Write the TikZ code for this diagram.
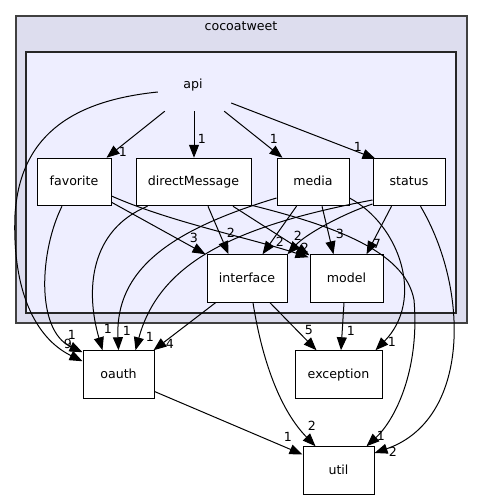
\documentclass[tikz,border=0pt]{standalone}
\usepackage{fontspec}
\setmainfont{DejaVu Sans}
\usetikzlibrary{arrows.meta}
\definecolor{outerfill}{HTML}{DDDDEE}
\definecolor{innerfill}{HTML}{EEEEFF}
\definecolor{clusterline}{HTML}{404040}
\begin{document}
\begin{tikzpicture}[x=1pt,y=-1pt,
  every node/.style={font=\fontsize{12.6}{15}\selectfont, text height=9.5pt, text depth=2.5pt},
  cluster/.style={draw=clusterline, line width=1.1pt, inner sep=0pt},
  dirbox/.style={draw=black, fill=white, line width=1pt, minimum height=47.5pt, inner sep=0pt},
  dep/.style={draw=black, line width=1pt, -{Triangle[length=13pt,width=10pt]}},
  lbl/.style={inner sep=0pt}
]
\useasboundingbox (0,0) rectangle (483,500);
\fill[white] (0,0) rectangle (483,500);
% clusters
\node[cluster, fill=outerfill, minimum width=451pt, minimum height=307pt] (cocoa) at (241.5,169.5) {};
\node (cocoatitle) at (241,27.5) {cocoatweet};
\node[cluster, draw=black!85, fill=innerfill, minimum width=430pt, minimum height=261pt] (apicl) at (241,182.5) {};
\node[minimum width=76pt, minimum height=52pt, inner sep=0pt] (api) at (193,85) {api};
% directory nodes
\node[dirbox, minimum width=74pt] (fav) at (74,182) {favorite};
\node[dirbox, minimum width=115pt] (dm) at (193.5,182) {directMessage};
\node[dirbox, minimum width=72pt] (media) at (313,182) {media};
\node[dirbox, minimum width=72pt] (status) at (409,182) {status};
\node[dirbox, minimum width=80pt] (iface) at (247,278.5) {interface};
\node[dirbox, minimum width=73pt] (model) at (346.5,278.5) {model};
\node[dirbox, minimum width=71pt] (oauth) at (118.5,374.5) {oauth};
\node[dirbox, minimum width=87pt] (exc) at (338.5,374.5) {exception};
\node[dirbox, minimum width=71pt] (util) at (338.5,470.5) {util};
% hidden label behind arrowheads
\node[lbl] (ldmmodel) at (305,249) {2};
% edges from api
\draw[dep] ([shift={(10,0)}]api.south west) -- ([shift={(-5,0)}]fav.north east);
\draw[dep] ([shift={(1,0)}]api.south) -- ([shift={(0.5,0)}]dm.north);
\draw[dep] ([shift={(-7,0)}]api.south east) -- ([shift={(6,0)}]media.north west);
\draw[dep] ([shift={(0,18)}]api.east) -- ([shift={(3,1)}]status.north west);
\draw[dep] ([shift={(3,7)}]api.west) .. controls (80,100) and (20,130) .. (15,215) .. controls (12,290) and (35,338) .. ([shift={(0,11)}]oauth.north west);
% favorite
\draw[dep] ([shift={(-12,0)}]fav.south) .. controls (40,250) and (35,330) .. ([shift={(0,2)}]oauth.north west);
\draw[dep] ([shift={(0,-4)}]fav.south east) -- ([shift={(-1,0)}]iface.north west);
\draw[dep] ([shift={(0,14)}]fav.east) .. controls (170,222) and (250,238) .. ([shift={(-1,3)}]model.north west);
% directMessage
\draw[dep] ([shift={(14.5,0)}]dm.south) -- ([shift={(22,0)}]iface.north west);
\draw[dep] ([shift={(39.5,0)}]dm.south) -- ([shift={(0,1)}]model.north west);
\draw[dep] ([shift={(12,0)}]dm.south west) .. controls (90,230) and (85,290) .. ([shift={(20,0)}]oauth.north west);
\draw[dep] ([shift={(0,-1)}]dm.south east) .. controls (330,225) and (405,250) .. (414,300) .. controls (420,370) and (395,420) .. ([shift={(-8,0)}]util.north east);
% media
\draw[dep] ([shift={(20,0)}]media.south west) -- ([shift={(56,0)}]iface.north west);
\draw[dep] ([shift={(9,0)}]media.south) -- ([shift={(24,0)}]model.north west);
\draw[dep] ([shift={(0,16)}]media.west) .. controls (170,230) and (115,270) .. ([shift={(36,0)}]oauth.north west);
\draw[dep] ([shift={(0,16)}]media.east) .. controls (400,225) and (425,300) .. ([shift={(-7,0)}]exc.north east);
% status
\draw[dep] ([shift={(0,22)}]status.west) .. controls (340,215) and (305,235) .. (iface.north east);
\draw[dep] ([shift={(19,0)}]status.south west) -- ([shift={(-17,0)}]model.north east);
\draw[dep] ([shift={(0,18)}]status.west) .. controls (240,225) and (160,260) .. ([shift={(53,0)}]oauth.north west);
\draw[dep] ([shift={(-25,0)}]status.south east) .. controls (470,290) and (470,420) .. ([shift={(0,-17.5)}]util.east);
% interface
\draw[dep] ([shift={(9,0)}]iface.south west) -- ([shift={(-1,0)}]oauth.north east);
\draw[dep] ([shift={(23,0)}]iface.south) -- ([shift={(22,0)}]exc.north west);
\draw[dep] ([shift={(6,0)}]iface.south) .. controls (262,360) and (280,410) .. ([shift={(13,0)}]util.north west);
% model
\draw[dep] ([shift={(-2.5,0)}]model.south) -- ([shift={(2.5,0)}]exc.north);
% oauth
\draw[dep] ([shift={(0,17)}]oauth.east) -- ([shift={(0,-16)}]util.west);
% labels
\node[lbl] (l1) at (123,153) {1};
\node[lbl] (l2) at (202,140) {1};
\node[lbl] (l3) at (274,140) {1};
\node[lbl] (l4) at (358,148) {1};
\node[lbl] (l5) at (72,336) {1};
\node[lbl] (l6) at (68,345) {9};
\node[lbl] (l7) at (194,239) {3};
\node[lbl] (l8) at (231,234) {2};
\node[lbl] (l9) at (280,243) {2};
\node[lbl] (l10) at (298,237) {2};
\node[lbl] (l11) at (340,235) {3};
\node[lbl] (l12) at (377,245) {7};
\node[lbl] (l13) at (108,330) {1};
\node[lbl] (l14) at (127,332) {1};
\node[lbl] (l15) at (150,338) {1};
\node[lbl] (l16) at (170,345) {4};
\node[lbl] (l17) at (309,331) {5};
\node[lbl] (l18) at (351,332) {1};
\node[lbl] (l19) at (392,343) {1};
\node[lbl] (l20) at (312,427) {2};
\node[lbl] (l21) at (288,438) {1};
\node[lbl] (l22) at (381,437) {1};
\node[lbl] (l23) at (393,453) {2};
\end{tikzpicture}
\end{document}
